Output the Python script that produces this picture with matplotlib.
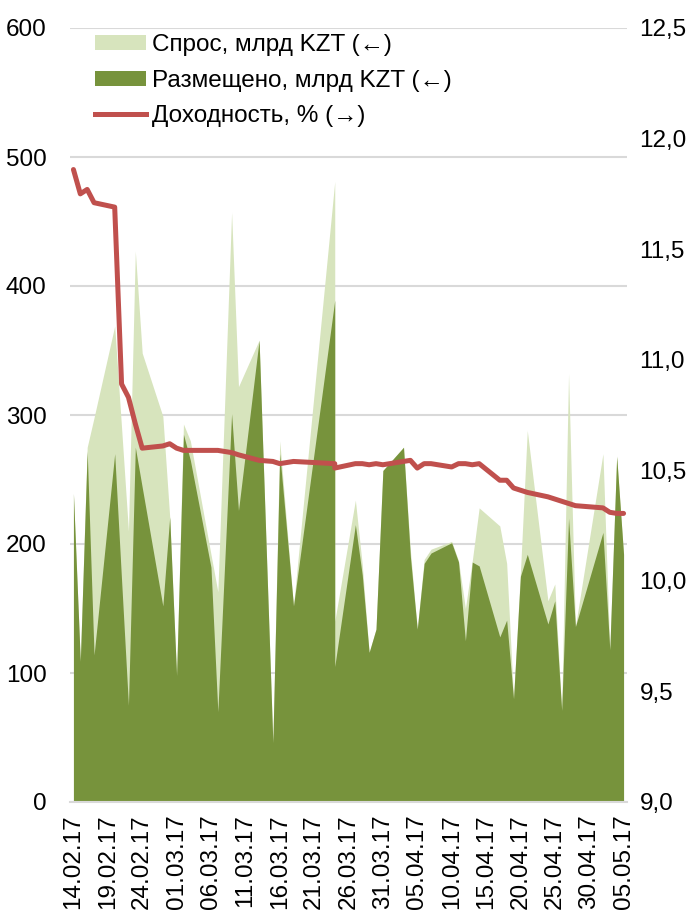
import pandas as pd
import matplotlib.pyplot as plt
from matplotlib.patches import Patch
from matplotlib.lines import Line2D

# auction dates (24.03 appears twice in the source data)
dates = ["14.02.17", "15.02.17", "16.02.17", "17.02.17", "20.02.17", "21.02.17",
         "22.02.17", "23.02.17", "24.02.17", "27.02.17", "28.02.17", "01.03.17",
         "02.03.17", "03.03.17", "06.03.17", "07.03.17", "09.03.17", "10.03.17",
         "13.03.17", "15.03.17", "16.03.17", "18.03.17", "24.03.17", "24.03.17",
         "27.03.17", "28.03.17", "29.03.17", "30.03.17", "31.03.17", "03.04.17",
         "04.04.17", "05.04.17", "06.04.17", "07.04.17", "10.04.17", "11.04.17",
         "12.04.17", "13.04.17", "14.04.17", "17.04.17", "18.04.17", "19.04.17",
         "20.04.17", "21.04.17", "24.04.17", "25.04.17", "26.04.17", "27.04.17",
         "28.04.17", "02.05.17", "03.05.17", "04.05.17", "05.05.17"]

demand = [239, 109, 275, 298, 369, 290, 210, 427, 348, 299, 221, 98,
          293, 280, 192, 163, 457, 322, 358, 46, 280, 152, 481, 140,
          234, 184, 116, 134, 257, 275, 195, 134, 188, 196, 202, 187,
          150, 187, 228, 214, 185, 80, 178, 288, 156, 169, 71, 332,
          136, 270, 118, 268, 192]

placed = [239, 109, 272, 114, 270, 172, 75, 275, 244, 152, 221, 98,
          285, 265, 182, 70, 301, 226, 358, 46, 270, 152, 389, 105,
          215, 176, 116, 134, 257, 275, 190, 134, 185, 193, 201, 186,
          125, 186, 183, 128, 141, 80, 175, 192, 138, 156, 71, 220,
          136, 209, 118, 268, 192]

yields = [11.86, 11.75, 11.77, 11.71, 11.69, 10.89, 10.83, 10.71, 10.60, 10.61,
          10.62, 10.60, 10.59, 10.59, 10.59, 10.59, 10.58, 10.57, 10.545, 10.54,
          10.53, 10.54, 10.53, 10.51, 10.53, 10.53, 10.525, 10.53, 10.525, 10.54,
          10.545, 10.51, 10.53, 10.53, 10.515, 10.53, 10.53, 10.525, 10.53, 10.455,
          10.455, 10.42, 10.41, 10.40, 10.38, 10.37, 10.36, 10.35, 10.34, 10.33,
          10.31, 10.305, 10.305]

left_ticks = [0, 100, 200, 300, 400, 500, 600]
right_ticks = [9.0, 9.5, 10.0, 10.5, 11.0, 11.5, 12.0, 12.5]
right_labels = ["9,0", "9,5", "10,0", "10,5", "11,0", "11,5", "12,0", "12,5"]
legend_labels = ["Спрос, млрд KZT (←)", "Размещено, млрд KZT (←)", "Доходность, % (→)"]

LIGHT = "#D7E4BD"
DARK = "#77933C"
RED = "#C0504D"
GRID = "#D9D9D9"

plt.rcParams['font.family'] = ['Liberation Sans', 'DejaVu Sans']
FS = 17.5

x = pd.to_datetime(dates, format="%d.%m.%y")
start, end = x[0], x[-1]

fig = plt.figure(figsize=(6.93, 9.24), dpi=100)
ax = fig.add_axes([70 / 693, 1 - 802 / 924, 557 / 693, 774 / 924])

ax.fill_between(x, demand, color=LIGHT, linewidth=0, zorder=2)
ax.fill_between(x, placed, color=DARK, linewidth=0, zorder=3)

ax.set_ylim(0, 600)
ax.set_yticks(left_ticks)
ax.set_xlim(start - pd.Timedelta(hours=12), end + pd.Timedelta(hours=12))
ax.yaxis.grid(True, color=GRID, linewidth=1.5, zorder=0)
ax.set_axisbelow(True)
for s in ['top', 'left', 'right']:
    ax.spines[s].set_visible(False)
ax.spines['bottom'].set_color(GRID)
ax.spines['bottom'].set_linewidth(1.5)
ax.spines['bottom'].set_zorder(4)

xticks = pd.date_range(start, end, freq="5D")
ax.set_xticks(xticks)
ax.set_xticklabels([d.strftime("%d.%m.%y") for d in xticks], rotation=90, va='top')
ax.tick_params(axis='x', length=0, pad=9, labelsize=FS)
ax.tick_params(axis='y', length=0, pad=17, labelsize=FS)

ax2 = ax.twinx()
ax2.plot(x, yields, color=RED, linewidth=3.6, solid_joinstyle='round',
         solid_capstyle='round', zorder=5)
ax2.set_ylim(9.0, 12.5)
ax2.set_yticks(right_ticks)
ax2.set_yticklabels(right_labels)
ax2.tick_params(axis='y', length=0, pad=9, labelsize=FS)
for s in ['top', 'left', 'right', 'bottom']:
    ax2.spines[s].set_visible(False)

handles = [Patch(facecolor=LIGHT, edgecolor='none'),
           Patch(facecolor=DARK, edgecolor='none'),
           Line2D([0], [0], color=RED, linewidth=3.6)]
ax2.legend(handles, legend_labels, loc='upper left', bbox_to_anchor=(0.045, 0.992),
           frameon=False, fontsize=FS, handlelength=2.1, handleheight=0.55,
           handletextpad=0.25, labelspacing=0.56, borderaxespad=0, borderpad=0)

fig.savefig("out.png", dpi=100)
